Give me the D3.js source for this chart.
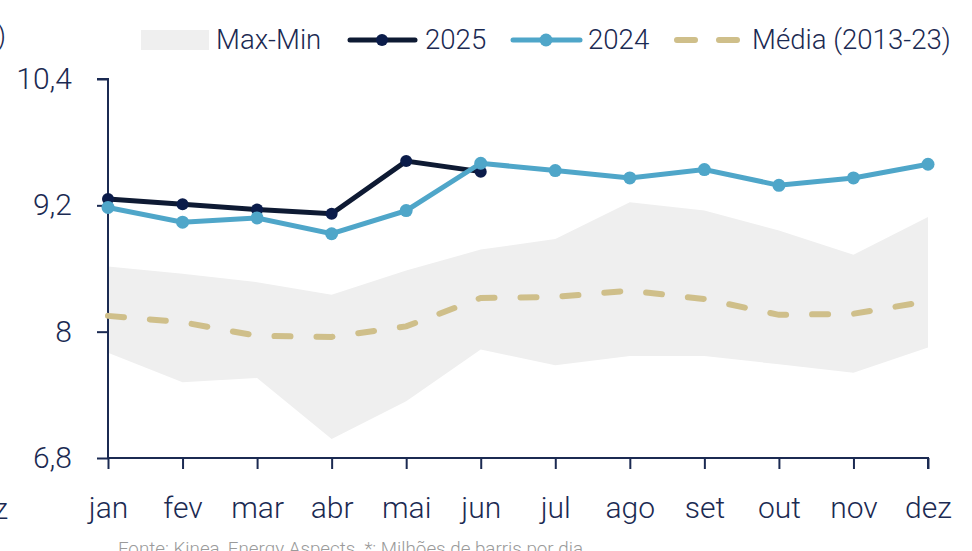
<!DOCTYPE html>
<html>
<head>
<meta charset="utf-8">
<script src="https://cdn.jsdelivr.net/npm/d3@7"></script>
<style>
  html, body { margin: 0; padding: 0; background: #fff; }
  svg { display: block; }
  text { font-family: Roboto, "Open Sans", sans-serif; }
</style>
</head>
<body>
<svg id="chart" width="972" height="551"></svg>
<script>
// Monthly oil production (million barrels per day)
const months = ["jan", "fev", "mar", "abr", "mai", "jun", "jul", "ago", "set", "out", "nov", "dez"];
const yTicks = [6.8, 8, 9.2, 10.4];
const series2025 = [9.26, 9.21, 9.16, 9.12, 9.62, 9.52];
const series2024 = [9.18, 9.04, 9.08, 8.93, 9.15, 9.60, 9.53, 9.46, 9.54, 9.39, 9.46, 9.59];
const media = [8.15, 8.09, 7.96, 7.95, 8.05, 8.32, 8.33, 8.39, 8.31, 8.16, 8.17, 8.29];
const rangeMax = [8.62, 8.55, 8.47, 8.35, 8.58, 8.78, 8.88, 9.23, 9.15, 8.96, 8.73, 9.09];
const rangeMin = [7.80, 7.52, 7.56, 6.98, 7.34, 7.83, 7.68, 7.77, 7.77, 7.69, 7.61, 7.85];

const navy = "#1b2a52";
const c2025 = "#0e1a33";
const dot2025 = "#0b1c4a";
const c2024 = "#4fa6c9";
const cMedia = "#cfbf8a";
const cBand = "#efefef";

const svg = d3.select("#chart");
const plotLeft = 108, plotRight = 928, plotTop = 79, plotBottom = 458;

const x = d3.scalePoint().domain(months).range([plotLeft, plotRight]);
const y = d3.scaleLinear().domain([6.8, 10.4]).range([plotBottom, plotTop]);

// Max-Min band
const area = d3.area()
  .x((d, i) => x(months[i]))
  .y0((d, i) => y(rangeMin[i]))
  .y1((d, i) => y(rangeMax[i]));
svg.append("path").datum(rangeMax).attr("d", area).attr("fill", cBand);

// Axes
const yAxis = svg.append("g").attr("transform", `translate(${plotLeft},0)`)
  .call(d3.axisLeft(y).tickValues(yTicks).tickSize(11).tickPadding(25)
    .tickFormat(d => d3.format(".1~f")(d).replace(".", ",")));
const xAxis = svg.append("g").attr("transform", `translate(0,${plotBottom})`)
  .call(d3.axisBottom(x).tickSize(11).tickPadding(28));
[yAxis, xAxis].forEach(g => {
  g.select(".domain").attr("stroke", navy).attr("stroke-width", 2);
  g.selectAll(".tick line").attr("stroke", navy).attr("stroke-width", 2);
  g.selectAll(".tick text").attr("fill", navy).attr("font-size", 30).attr("font-family", "Roboto, sans-serif").attr("font-weight", 300);
});
yAxis.select(".domain").attr("d", `M-11,${plotTop}H0V${plotBottom}`);
xAxis.select(".domain").attr("d", `M${plotLeft},0H${plotRight}V11`);
xAxis.selectAll(".tick text").attr("dy", "0.71em");

const line = d3.line().x((d, i) => x(months[i])).y(d => y(d));

// 10-year average
svg.append("path").datum(media).attr("d", line)
  .attr("fill", "none").attr("stroke", cMedia).attr("stroke-width", 6)
  .attr("stroke-linecap", "round").attr("stroke-dasharray", "16 26");

// 2025
svg.append("path").datum(series2025).attr("d", line)
  .attr("fill", "none").attr("stroke", c2025).attr("stroke-width", 5);
svg.append("g").selectAll("circle").data(series2025).join("circle")
  .attr("cx", (d, i) => x(months[i])).attr("cy", d => y(d)).attr("r", 6).attr("fill", dot2025);

// 2024
svg.append("path").datum(series2024).attr("d", line)
  .attr("fill", "none").attr("stroke", c2024).attr("stroke-width", 5);
svg.append("g").selectAll("circle").data(series2024).join("circle")
  .attr("cx", (d, i) => x(months[i])).attr("cy", d => y(d)).attr("r", 6.5).attr("fill", c2024);

// Legend
const lg = svg.append("g").attr("font-size", 27.6).attr("fill", navy);
lg.append("rect").attr("x", 141).attr("y", 30).attr("width", 68).attr("height", 20).attr("fill", cBand);
lg.append("text").attr("x", 216).attr("y", 49).attr("fill", navy).attr("font-weight", 300).text("Max-Min");
lg.append("line").attr("x1", 350).attr("x2", 415).attr("y1", 40).attr("y2", 40)
  .attr("stroke", c2025).attr("stroke-width", 5).attr("stroke-linecap", "round");
lg.append("circle").attr("cx", 382).attr("cy", 40).attr("r", 6).attr("fill", dot2025);
lg.append("text").attr("x", 425).attr("y", 49).attr("fill", navy).attr("font-weight", 300).text("2025");
lg.append("line").attr("x1", 513).attr("x2", 580).attr("y1", 40).attr("y2", 40)
  .attr("stroke", c2024).attr("stroke-width", 5).attr("stroke-linecap", "round");
lg.append("circle").attr("cx", 546).attr("cy", 40).attr("r", 6.5).attr("fill", c2024);
lg.append("text").attr("x", 588).attr("y", 49).attr("fill", navy).attr("font-weight", 300).text("2024");
lg.append("line").attr("x1", 677).attr("x2", 737).attr("y1", 40).attr("y2", 40)
  .attr("stroke", cMedia).attr("stroke-width", 6).attr("stroke-linecap", "round")
  .attr("stroke-dasharray", "18 24");
lg.append("text").attr("x", 752).attr("y", 49).attr("fill", navy).attr("font-weight", 300).text("Média (2013-23)");

// Unit label and neighbouring month label at the left edge
svg.append("text").attr("x", 6).attr("y", 45).attr("text-anchor", "end")
  .attr("font-size", 27.6).attr("fill", navy).attr("font-weight", 300).text("(Mbpd*)");
svg.append("text").attr("x", 8).attr("y", 519).attr("text-anchor", "end")
  .attr("font-size", 30).attr("fill", navy).attr("font-weight", 300).text("dez");

// Source note
svg.append("text").attr("x", 118).attr("y", 555)
  .attr("font-size", 18.8).attr("fill", "#9a9a9a").attr("font-weight", 300)
  .text("Fonte: Kinea, Energy Aspects. *: Milhões de barris por dia");
</script>
</body>
</html>
